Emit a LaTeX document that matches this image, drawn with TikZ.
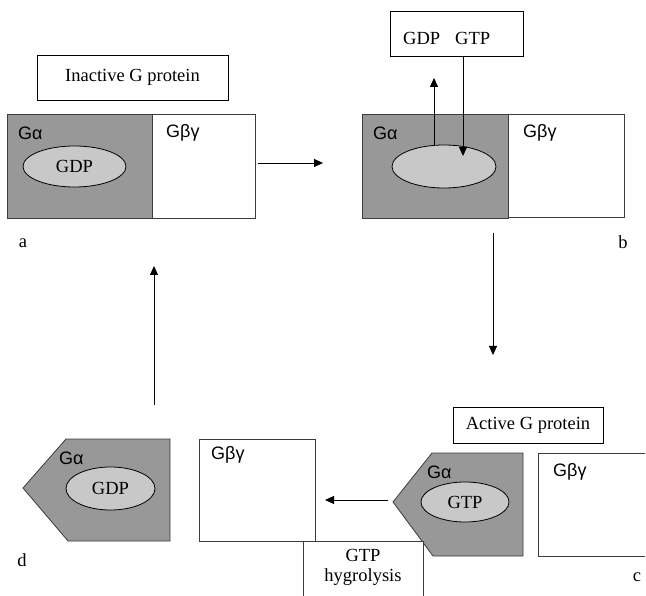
\documentclass[tikz,border=0pt]{standalone}
\usepackage{fontspec}
\setmainfont{Liberation Serif}
\newfontfamily\sansgk{Liberation Sans}
\usetikzlibrary{arrows.meta,shapes.geometric}
\definecolor{darkfill}{RGB}{152,152,152}
\definecolor{ellfill}{RGB}{200,200,200}
\definecolor{edge}{RGB}{60,60,60}
\tikzset{
  txt/.style={font=\fontsize{18.5}{20}\selectfont, inner sep=0pt},
  gk/.style={font=\sansgk\fontsize{18}{20}\selectfont, inner sep=0pt, anchor=west},
  lblbox/.style={draw=black, line width=0.8pt, inner sep=0pt, fill=white},
  darkbox/.style={draw=edge, line width=0.8pt, fill=darkfill, inner sep=0pt},
  whitebox/.style={draw=edge, line width=0.8pt, fill=white, inner sep=0pt},
  ell/.style={ellipse, draw=black, line width=0.8pt, fill=ellfill, inner sep=0pt, font=\fontsize{18.5}{20}\selectfont},
  conn/.style={line width=0.8pt, -{Triangle[length=9pt,width=8pt]}},
}
\begin{document}
\begin{tikzpicture}[x=1pt,y=-1pt]
\useasboundingbox (0,0) rectangle (646,596);
\fill[white] (0,0) rectangle (646,596);

% ---------- panel a ----------
\node[lblbox, minimum width=191pt, minimum height=45pt] (inact) at (132.5,77.5) {};
\node[txt] (inacttxt) at (inact.center) {Inactive G protein};
\node[darkbox, minimum width=145pt, minimum height=104pt] (aGa) at (79.5,166) {};
\node[whitebox, minimum width=103pt, minimum height=104pt] (aGbg) at (203.5,166) {};
\node[ell, minimum width=103pt, minimum height=41pt] (aell) at (74.5,166.5) {GDP};
\node[gk] (aGat) at (18,133) {Gα};
\node[gk] (aGbgt) at (166,133) {Gβγ};
\node[txt] (alab) at (23,243) {a};
\coordinate (ab1) at (258,163);
\coordinate (ab2) at (323,163);
\draw[conn] (ab1) -- (ab2);

% ---------- panel b ----------
\node[lblbox, minimum width=133pt, minimum height=45pt] (gdpgtp) at (456.5,33.5) {};
\node[txt, anchor=west] (gdpt) at (403,38) {GDP\hspace{15pt}GTP};
\node[darkbox, minimum width=146pt, minimum height=104pt] (bGa) at (435,166) {};
\node[whitebox, minimum width=116pt, minimum height=103pt] (bGbg) at (566,165.5) {};
\node[ell, minimum width=104pt, minimum height=43pt] (bell) at (444,166.5) {};
\node[gk] (bGat) at (373,133) {Gα};
\node[gk] (bGbgt) at (523,133) {Gβγ};
\node[txt] (blab) at (623,242) {b};
\coordinate (bup1) at (434,145.4);
\coordinate (bup2) at (434,78);
\draw[conn] (bup1) -- (bup2);
\coordinate (bdn1) at (463,56);
\coordinate (bdn2) at (463,156);
\draw[conn] (bdn1) -- (bdn2);
\coordinate (bc1) at (493,233);
\coordinate (bc2) at (493,355);
\draw[conn] (bc1) -- (bc2);

% ---------- panel c ----------
\node[lblbox, minimum width=150pt, minimum height=36pt] (act) at (528,425) {};
\node[txt] (acttxt) at (act.center) {Active G protein};
\draw[draw=edge, line width=0.8pt, fill=darkfill] (432,453) -- (523,453) -- (523,556) -- (433,556) -- (393,502) -- cycle;
\coordinate (cGa) at (458,504);
\node[ell, minimum width=88pt, minimum height=40pt] (cell) at (465,502) {GTP};
\node[gk] (cGat) at (427,472) {Gα};
\draw[draw=edge, line width=0.8pt] (645,556) -- (538,556) -- (538,453) -- (645,453);
\node[gk] (cGbgt) at (553,472) {Gβγ};
\node[txt] (clab) at (637,577) {c};
\coordinate (cd1) at (388,500);
\coordinate (cd2) at (325,500);
\draw[conn] (cd1) -- (cd2);
\node[whitebox, minimum width=120pt, minimum height=62pt, anchor=north west] (hyd) at (303,541) {};
\node[txt, align=center, font=\fontsize{18.5}{20}\selectfont] (hydt) at (363,567) {GTP\\hygrolysis};

% ---------- panel d ----------
\draw[draw=edge, line width=0.8pt, fill=darkfill] (66,439) -- (170,439) -- (170,541) -- (68,541) -- (23,488) -- cycle;
\coordinate (dGa) at (100,490);
\node[ell, minimum width=89pt, minimum height=43pt] (dell) at (110.5,488.5) {GDP};
\node[gk] (dGat) at (59,458) {Gα};
\node[whitebox, minimum width=116pt, minimum height=102pt] (dGbg) at (257,490) {};
\node[gk] (dGbgt) at (211,455) {Gβγ};
\node[txt] (dlab) at (22,560) {d};
\coordinate (da1) at (154,405);
\coordinate (da2) at (154,266);
\draw[conn] (da1) -- (da2);
\end{tikzpicture}
\end{document}
